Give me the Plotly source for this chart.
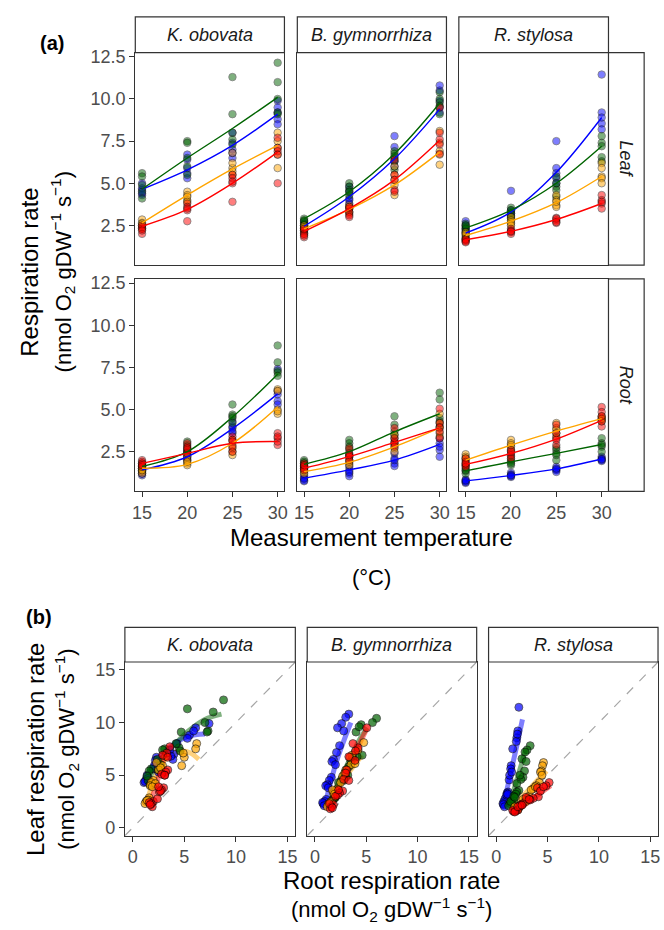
import plotly.graph_objects as go

# ---------------- data ----------------
TEMPS = [15, 20, 25, 30]
SPECIES = ["K. obovata", "B. gymnorrhiza", "R. stylosa"]
ORGANS = ["Leaf", "Root"]
GROUP_COLORS = ["#0000FF", "#006400", "#FFA500", "#FF0000"]  # blue, darkgreen, orange, red

Y_TICKS_A = [2.5, 5.0, 7.5, 10.0, 12.5]
Y_TICKTEXT_A = ["2.5", "5.0", "7.5", "10.0", "12.5"]
X_TICKS_B = [0, 5, 10, 15]

# replicate respiration rates at 15/20/25/30 degC  (panel a)
ko_leaf_blue = [[5.0, 4.6, 4.3, 4.7, 4.4], [6.7, 6.4, 5.6, 5.3, 5.9], [8.0, 7.0, 6.5, 7.4, 6.8], [9.9, 9.5, 8.8, 8.5, 9.2]]
ko_leaf_green = [[5.6, 5.4, 4.5, 4.1, 4.9], [7.5, 7.4, 6.0, 5.5, 6.5], [11.3, 9.1, 7.6, 8.0, 7.3], [12.15, 11.0, 9.2, 9.1, 10.0]]
ko_leaf_orange = [[2.85, 2.65, 2.5, 2.3, 2.6], [4.5, 4.3, 4.0, 4.2, 3.9], [6.8, 5.9, 5.5, 6.2, 5.7], [8.0, 7.5, 6.7, 5.9, 7.1]]
ko_leaf_red = [[2.5, 2.0, 2.3, 2.4, 2.2], [3.8, 3.6, 3.4, 2.75, 3.5], [5.5, 5.3, 5.0, 3.9, 5.1], [7.7, 7.1, 6.9, 5.0, 6.7]]

bg_leaf_blue = [[2.7, 2.5, 2.3, 2.4, 2.1], [4.8, 4.5, 4.1, 4.0, 3.8], [7.8, 7.15, 6.5, 6.3, 6.0], [10.8, 10.5, 9.9, 9.5, 9.2]]
bg_leaf_green = [[2.9, 2.75, 2.6, 2.5, 2.8], [5.0, 4.8, 4.6, 4.3, 4.5], [6.9, 6.75, 6.6, 5.8, 6.3], [10.4, 10.0, 9.8, 9.1, 9.6]]
bg_leaf_orange = [[2.5, 2.3, 2.2, 2.0, 2.4], [3.7, 3.5, 3.3, 3.6, 3.2], [6.0, 5.5, 4.9, 4.3, 5.2], [8.1, 7.4, 6.9, 6.1, 6.7]]
bg_leaf_red = [[2.2, 2.0, 1.8, 2.3, 1.9], [3.5, 3.3, 3.1, 3.0, 3.6], [6.4, 5.5, 5.2, 4.6, 4.5], [9.5, 7.6, 7.3, 6.75, 8.0]]

rs_leaf_blue = [[2.75, 2.5, 2.3, 2.2, 2.0], [4.55, 3.4, 3.3, 3.1, 3.2], [7.5, 5.9, 5.6, 5.0, 5.3], [11.45, 9.2, 8.55, 8.2, 8.9]]
rs_leaf_green = [[2.6, 2.4, 2.3, 2.1, 2.5], [3.55, 3.4, 3.2, 3.0, 2.9], [5.4, 4.8, 4.6, 4.2, 5.0], [7.8, 7.4, 7.2, 6.55, 6.3]]
rs_leaf_orange = [[2.1, 1.9, 1.8, 2.0, 1.7], [3.0, 2.8, 2.6, 2.7, 2.5], [4.3, 4.0, 3.7, 3.6, 3.9], [6.2, 5.9, 5.4, 5.3, 5.0]]
rs_leaf_red = [[1.7, 1.6, 1.55, 1.65, 1.5], [2.3, 2.2, 2.1, 2.0, 2.15], [2.95, 2.8, 2.65, 2.9, 2.7], [4.3, 4.0, 3.8, 3.5, 3.9]]

ko_root_blue = [[1.4, 1.3, 1.1, 1.5, 1.2], [2.3, 2.2, 2.0, 2.5, 2.1], [4.3, 4.0, 3.9, 3.6, 3.7], [7.4, 6.1, 5.5, 5.3, 5.9]]
ko_root_green = [[1.8, 1.6, 1.5, 1.7, 1.4], [3.1, 2.9, 2.7, 2.5, 2.4], [5.3, 4.7, 4.5, 4.2, 4.6], [8.8, 7.8, 7.3, 7.2, 7.0]]
ko_root_orange = [[1.6, 1.5, 1.3, 1.2, 1.4], [2.0, 1.8, 1.7, 2.2, 1.9], [3.2, 2.9, 2.5, 2.3, 2.7], [6.2, 6.1, 5.0, 4.75, 4.9]]
ko_root_red = [[2.0, 1.9, 1.8, 1.6, 1.7], [3.0, 2.8, 2.6, 2.4, 2.7], [3.4, 3.2, 3.1, 2.5, 2.8], [3.6, 3.3, 2.9, 3.1, 3.4]]

bg_root_blue = [[1.1, 0.95, 0.8, 0.75, 0.9], [1.6, 1.4, 1.2, 1.05, 1.3], [2.4, 2.1, 1.8, 1.65, 2.0], [3.3, 3.0, 2.6, 2.2, 2.8]]
bg_root_green = [[2.0, 1.8, 1.7, 1.6, 1.9], [3.2, 3.0, 2.6, 2.3, 2.8], [4.6, 4.1, 3.7, 3.3, 3.5], [6.0, 5.6, 4.5, 4.0, 4.3]]
bg_root_orange = [[1.6, 1.4, 1.3, 1.2, 1.5], [2.2, 2.0, 1.8, 1.7, 1.9], [3.5, 3.0, 2.7, 2.5, 2.9], [4.75, 4.2, 3.6, 3.9, 3.4]]
bg_root_red = [[1.8, 1.6, 1.5, 1.4, 1.7], [2.7, 2.4, 2.2, 2.0, 2.3], [3.9, 3.1, 3.0, 2.8, 3.3], [5.05, 4.2, 3.95, 3.3, 3.7]]

rs_root_blue = [[0.85, 0.75, 0.65, 0.7, 0.8], [1.25, 1.15, 1.05, 1.0, 1.1], [1.6, 1.45, 1.4, 1.3, 1.5], [2.2, 2.1, 2.0, 1.95, 2.05]]
rs_root_green = [[1.7, 1.5, 1.35, 1.2, 1.4], [2.2, 2.0, 1.9, 1.7, 1.8], [2.75, 2.6, 2.4, 2.0, 2.3], [3.3, 3.0, 2.8, 2.5, 2.9]]
rs_root_orange = [[2.35, 2.2, 2.0, 1.8, 2.1], [3.2, 3.0, 2.8, 2.6, 2.9], [4.2, 3.9, 3.6, 3.4, 3.8], [4.6, 4.5, 4.4, 4.3, 4.45]]
rs_root_red = [[2.1, 1.9, 1.7, 1.6, 1.8], [2.6, 2.4, 2.3, 2.1, 2.5], [4.1, 3.6, 3.3, 2.9, 3.2], [5.15, 4.85, 4.0, 4.3, 4.6]]

# fitted temperature-response curves at 15/20/25/30 degC (panel a)
ko_leaf_fit = [[4.65, 5.8, 7.25, 9.1], [4.65, 6.5, 8.25, 10.1], [2.65, 4.3, 5.85, 7.25], [2.45, 3.45, 5.0, 6.85]]
bg_leaf_fit = [[2.45, 4.2, 6.45, 9.4], [2.9, 4.5, 6.75, 9.75], [2.3, 3.45, 4.9, 6.85], [2.15, 3.5, 5.2, 7.55]]
rs_leaf_fit = [[2.05, 3.3, 5.65, 8.9], [2.35, 3.4, 5.0, 7.2], [1.9, 2.75, 3.85, 5.4], [1.65, 2.15, 2.85, 3.8]]
ko_root_fit = [[1.42, 2.2, 3.87, 5.93], [1.62, 2.5, 4.56, 7.1], [1.52, 1.75, 3.0, 5.15], [1.81, 2.4, 3.0, 3.1]]
bg_root_fit = [[0.93, 1.42, 2.0, 2.93], [1.75, 2.5, 3.68, 4.75], [1.32, 1.87, 2.79, 3.91], [1.52, 2.21, 3.05, 3.91]]
rs_root_fit = [[0.77, 1.09, 1.48, 2.07], [1.36, 1.9, 2.4, 2.93], [2.0, 2.89, 3.72, 4.46], [1.75, 2.4, 3.25, 4.36]]

# leaf-vs-root fitted relationships (panel b): root rate (x), leaf rate (y)
ko_b_blue_x = [1.3, 2.5, 3.8, 5.4, 7.0]
ko_b_blue_y = [4.9, 6.6, 7.8, 8.7, 8.9]
ko_b_green_x = [1.4, 2.55, 4.15, 5.4, 7.0, 8.6]
ko_b_green_y = [4.3, 6.3, 8.0, 9.2, 10.3, 10.8]
ko_b_orange_x = [1.4, 2.0, 2.9, 3.8, 4.8, 5.6, 6.4]
ko_b_orange_y = [2.6, 4.3, 6.2, 7.0, 7.3, 7.1, 6.5]
ko_b_red_x = [1.6, 2.2, 2.7, 3.2]
ko_b_red_y = [2.1, 3.8, 5.5, 7.2]

bg_b_blue_x = [0.95, 1.5, 2.1, 2.9, 3.5]
bg_b_blue_y = [2.1, 4.2, 6.3, 8.5, 10.0]
bg_b_green_x = [1.3, 2.2, 3.3, 4.3, 5.1]
bg_b_green_y = [2.1, 4.1, 6.3, 8.3, 9.5]
bg_b_orange_x = [1.3, 2.0, 2.8, 3.8, 4.6]
bg_b_orange_y = [2.0, 3.3, 4.6, 5.9, 6.9]
bg_b_red_x = [1.3, 2.2, 3.2, 4.2, 5.0]
bg_b_red_y = [1.8, 3.6, 5.6, 7.7, 9.3]

rs_b_blue_x = [0.8, 1.4, 2.0, 2.55]
rs_b_blue_y = [2.6, 5.2, 7.8, 10.3]
rs_b_green_x = [1.28, 1.8, 2.35, 2.87]
rs_b_green_y = [2.1, 3.9, 5.7, 7.5]
rs_b_orange_x = [1.4, 2.5, 3.7, 4.9]
rs_b_orange_y = [1.7, 2.9, 4.2, 5.4]
rs_b_red_x = [1.6, 2.8, 4.0, 5.3]
rs_b_red_y = [1.35, 2.2, 3.1, 4.0]

LEAF = [[ko_leaf_blue, ko_leaf_green, ko_leaf_orange, ko_leaf_red],
        [bg_leaf_blue, bg_leaf_green, bg_leaf_orange, bg_leaf_red],
        [rs_leaf_blue, rs_leaf_green, rs_leaf_orange, rs_leaf_red]]
ROOT = [[ko_root_blue, ko_root_green, ko_root_orange, ko_root_red],
        [bg_root_blue, bg_root_green, bg_root_orange, bg_root_red],
        [rs_root_blue, rs_root_green, rs_root_orange, rs_root_red]]
FITS = [[ko_leaf_fit, bg_leaf_fit, rs_leaf_fit], [ko_root_fit, bg_root_fit, rs_root_fit]]
BLINES = [[(ko_b_blue_x, ko_b_blue_y), (ko_b_green_x, ko_b_green_y), (ko_b_orange_x, ko_b_orange_y), (ko_b_red_x, ko_b_red_y)],
          [(bg_b_blue_x, bg_b_blue_y), (bg_b_green_x, bg_b_green_y), (bg_b_orange_x, bg_b_orange_y), (bg_b_red_x, bg_b_red_y)],
          [(rs_b_blue_x, rs_b_blue_y), (rs_b_green_x, rs_b_green_y), (rs_b_orange_x, rs_b_orange_y), (rs_b_red_x, rs_b_red_y)]]

# ---------------- layout helpers ----------------
W, H = 664, 930
FONT = "Liberation Sans, Arial, Helvetica, sans-serif"
LINE_C = "#333333"
TICK_C = "#4D4D4D"


def px(x):
    return x / W


def py(y):
    return 1 - y / H


def rgba(hexc, a):
    h = hexc.lstrip("#")
    return "rgba(%d,%d,%d,%s)" % (int(h[0:2], 16), int(h[2:4], 16), int(h[4:6], 16), a)


A_COLS = [(133.5, 284), (297, 447.5), (460, 611)]
A_ROWS = [(48, 262), (276, 490)]
B_COLS = [(123, 295), (307, 478), (490, 661)]
B_ROW = (662, 837)

fig = go.Figure()
layout = dict(width=W, height=H, autosize=False, margin=dict(l=0, r=0, t=0, b=0),
              paper_bgcolor="white", plot_bgcolor="white", showlegend=False,
              font=dict(family=FONT, color="black"))
shapes, annotations = [], []

tickfont = dict(family=FONT, size=18, color=TICK_C)


def axis_common():
    return dict(showline=True, mirror=True, linecolor=LINE_C, linewidth=1.2, showgrid=False,
                zeroline=False, ticklen=5, tickcolor=LINE_C, tickwidth=1.1, tickfont=tickfont)


def text_at(text, x, y, size, angle=0, color="black"):
    annotations.append(dict(text=text, x=px(x), y=py(y), xref="paper", yref="paper",
                            xanchor="center", yanchor="middle", showarrow=False,
                            textangle=angle, font=dict(size=size, color=color, family=FONT)))


# ---------------- panel (a) ----------------
idx = 0
for r, organ in enumerate(ORGANS):
    for c, sp in enumerate(SPECIES):
        idx += 1
        xa = axis_common()
        xa.update(domain=[px(A_COLS[c][0]), px(A_COLS[c][1])], range=[14.25, 30.75],
                  anchor="y%d" % idx, tickvals=TEMPS,
                  ticks="outside" if r == 1 else "", showticklabels=(r == 1))
        ya = axis_common()
        ya.update(domain=[py(A_ROWS[r][1]), py(A_ROWS[r][0])], range=[0.15, 12.75],
                  anchor="x%d" % idx, tickvals=Y_TICKS_A, ticktext=Y_TICKTEXT_A,
                  ticks="outside" if c == 0 else "", showticklabels=(c == 0))
        layout["xaxis%d" % idx] = xa
        layout["yaxis%d" % idx] = ya
        data = LEAF[c] if organ == "Leaf" else ROOT[c]
        for g, col in enumerate(GROUP_COLORS):
            xs, ys = [], []
            for t, reps in zip(TEMPS, data[g]):
                for v in reps:
                    xs.append(t)
                    ys.append(v)
            fig.add_trace(go.Scatter(x=xs, y=ys, mode="markers", xaxis="x%d" % idx, yaxis="y%d" % idx,
                                     marker=dict(size=7.5, color=col, opacity=0.5,
                                                 line=dict(color="black", width=0.8)),
                                     hoverinfo="skip"))
        for g, col in enumerate(GROUP_COLORS):
            fig.add_trace(go.Scatter(x=TEMPS, y=FITS[r][c][g], mode="lines", xaxis="x%d" % idx,
                                     yaxis="y%d" % idx, line=dict(color=col, width=1.4, shape="spline"),
                                     hoverinfo="skip"))
        if r == 0:
            shapes.append(dict(type="rect", xref="paper", yref="paper", x0=px(A_COLS[c][0]),
                               x1=px(A_COLS[c][1]), y0=py(48), y1=py(12), fillcolor="white",
                               line=dict(color=LINE_C, width=1.2)))
            text_at("<i>%s</i>" % sp, (A_COLS[c][0] + A_COLS[c][1]) / 2, 30, 18, color="#1A1A1A")
    shapes.append(dict(type="rect", xref="paper", yref="paper", x0=px(611), x1=px(647),
                       y0=py(A_ROWS[r][1]), y1=py(A_ROWS[r][0]), fillcolor="white",
                       line=dict(color=LINE_C, width=1.2)))
    text_at("<i>%s</i>" % organ, 629, (A_ROWS[r][0] + A_ROWS[r][1]) / 2, 18, angle=90, color="#1A1A1A")

# ---------------- panel (b) ----------------
for c, sp in enumerate(SPECIES):
    idx += 1
    xa = axis_common()
    xa.update(domain=[px(B_COLS[c][0]), px(B_COLS[c][1])], range=[-0.75, 15.75],
              anchor="y%d" % idx, tickvals=X_TICKS_B, ticks="outside", showticklabels=True)
    ya = axis_common()
    ya.update(domain=[py(B_ROW[1]), py(B_ROW[0])], range=[-0.75, 15.75], anchor="x%d" % idx,
              tickvals=X_TICKS_B, ticks="outside" if c == 0 else "", showticklabels=(c == 0))
    layout["xaxis%d" % idx] = xa
    layout["yaxis%d" % idx] = ya
    # 1:1 reference line over the axis range
    fig.add_trace(go.Scatter(x=xa["range"], y=ya["range"], mode="lines", xaxis="x%d" % idx,
                             yaxis="y%d" % idx, line=dict(color="#A6A6A6", width=1.2, dash="dash"),
                             hoverinfo="skip"))
    for g, col in enumerate(GROUP_COLORS):
        bx, by = BLINES[c][g]
        fig.add_trace(go.Scatter(x=bx, y=by, mode="lines", xaxis="x%d" % idx, yaxis="y%d" % idx,
                                 line=dict(color=rgba(col, 0.5), width=5, shape="spline"),
                                 hoverinfo="skip"))
    for g, col in enumerate(GROUP_COLORS):
        xs, ys = [], []
        for rr, ll in zip(ROOT[c][g], LEAF[c][g]):
            xs.extend(rr)
            ys.extend(ll)
        fig.add_trace(go.Scatter(x=xs, y=ys, mode="markers", xaxis="x%d" % idx, yaxis="y%d" % idx,
                                 marker=dict(size=8, color=col, opacity=0.7,
                                             line=dict(color="black", width=0.8)),
                                 hoverinfo="skip"))
    shapes.append(dict(type="rect", xref="paper", yref="paper", x0=px(B_COLS[c][0]),
                       x1=px(B_COLS[c][1]), y0=py(B_ROW[0]), y1=py(627), fillcolor="white",
                       line=dict(color=LINE_C, width=1.2)))
    text_at("<i>%s</i>" % sp, (B_COLS[c][0] + B_COLS[c][1]) / 2, 645, 18, color="#1A1A1A")

UNITS = "(nmol O<sub>2</sub> gDW<sup>\u22121</sup> s<sup>\u22121</sup>)"

text_at("<b>(a)</b>", 49, 38, 20)
text_at("<b>(b)</b>", 36, 617, 20)
text_at("Respiration rate", 27, 269, 24, angle=-90)
text_at(UNITS, 61, 269, 22, angle=-90)
text_at("Measurement temperature", 372, 537, 24)
text_at("(\u00b0C)", 372, 577, 22)
text_at("Leaf respiration rate", 33, 750, 24, angle=-90)
text_at(UNITS, 64, 750, 22, angle=-90)
text_at("Root respiration rate", 392, 882, 24)
text_at(UNITS, 392, 911, 22)

layout["shapes"] = shapes
layout["annotations"] = annotations
fig.update_layout(**layout)
fig.write_html("out.html", config={"displayModeBar": False},
               post_script="document.body.style.margin='0px';document.body.style.overflow='hidden';")
